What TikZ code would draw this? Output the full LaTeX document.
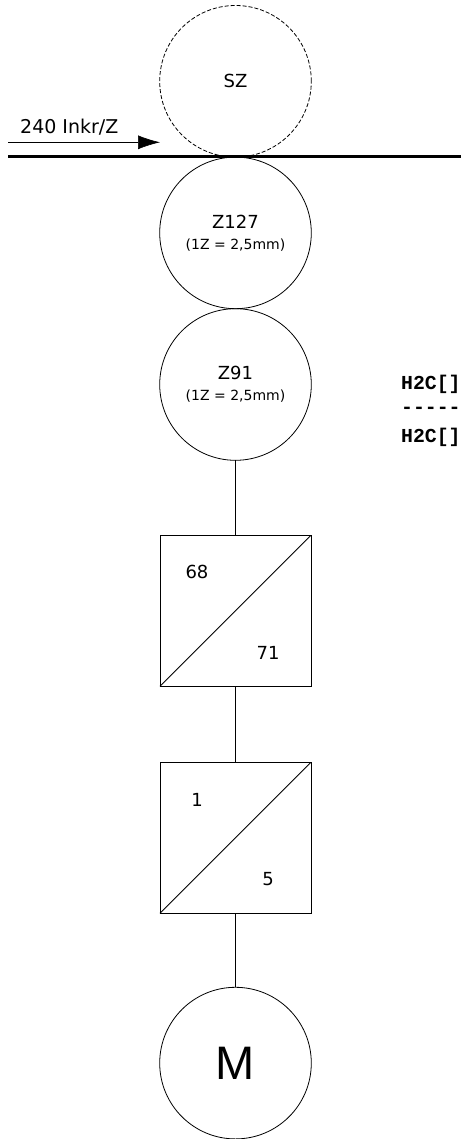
\documentclass[tikz,border=0pt]{standalone}
\usepackage{fontspec}
\setmainfont{DejaVu Sans}
\setmonofont{Liberation Mono}
\newfontfamily\motorfont{Liberation Sans}
\usetikzlibrary{positioning, arrows.meta}
\newcommand{\Pitch}{{\fontsize{14}{21}\selectfont (1Z = 2,5mm)}}

\begin{document}
\begin{tikzpicture}[
  x=1pt, y=1pt,
  font=\fontsize{18}{21}\selectfont,
  wheel/.style={draw, circle, line width=0.8pt, minimum size=151.6pt, inner sep=0pt, outer sep=0pt, align=center},
  ghost/.style={wheel, dash pattern=on 4pt off 2pt},
  gear/.style={draw, rectangle, line width=0.8pt, minimum size=151pt, inner sep=0pt, outer sep=0pt},
  conn/.style={line width=0.8pt},
  code/.style={font=\fontsize{19.8}{24}\selectfont\ttfamily\bfseries, anchor=west, inner sep=0pt}
]
\useasboundingbox (0,0) rectangle (461,-1139);

\node[ghost] (sz) at (235.5,-81.3) {SZ};
\node[wheel, below=0pt of sz] (z127) {Z127\\\Pitch};
\node[wheel, below=0pt of z127] (z91) {Z91\\\Pitch};

\node[gear, below=75pt of z91] (ratioa) {};
\node[gear, below=76pt of ratioa] (ratiob) {};
\node[wheel, below=74pt of ratiob, font=\fontsize{47}{50}\motorfont] (motor) {M};

\draw[conn] (ratioa.south west) -- (ratioa.north east);
\draw[conn] (ratiob.south west) -- (ratiob.north east);
\node at ([shift={(37,-37)}]ratioa.north west) (na) {68};
\node at ([shift={(-43,33.5)}]ratioa.south east) (nb) {71};
\node at ([shift={(37,-37.7)}]ratiob.north west) (nc) {1};
\node at ([shift={(-43,33.8)}]ratiob.south east) (nd) {5};

\draw[conn] (z91) -- (ratioa);
\draw[conn] (ratioa) -- (ratiob);
\draw[conn] (ratiob) -- (motor);

\coordinate (belta) at (8,-157);
\coordinate (beltb) at (461,-157);
\draw[line width=3pt] (belta) -- (beltb);

\coordinate (feeda) at (8,-142.3);
\coordinate (feedb) at (160,-142.3);
\draw[line width=0.6pt, -{Latex[length=22pt, width=14pt]}] (feeda) -- (feedb);
\node[anchor=base west, inner sep=0pt, font=\fontsize{19}{21}\selectfont] (feed) at (20,-134) {240 Inkr/Z};

\node[code] (ha) at (401,-384) {H2C[]};
\node[code] (hb) at ([yshift=-26.5pt]ha.west) {-----};
\node[code] (hc) at ([yshift=-26.5pt]hb.west) {H2C[]};
\end{tikzpicture}
\end{document}
